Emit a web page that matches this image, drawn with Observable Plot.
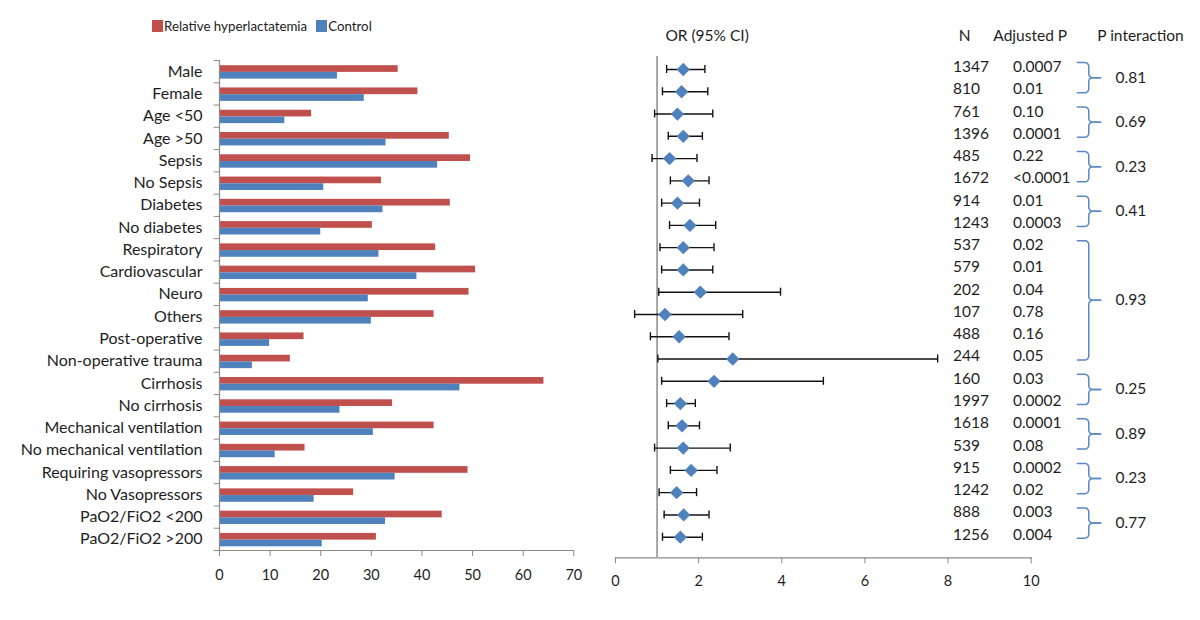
<!DOCTYPE html>
<html>
<head>
<meta charset="utf-8">
<script src="https://cdn.jsdelivr.net/npm/d3@7"></script>
<script src="https://cdn.jsdelivr.net/npm/@observablehq/plot@0.6"></script>
<style>
  html, body { margin: 0; padding: 0; background: #fff; }
  #wrap { position: relative; width: 1200px; height: 620px; font-family: Lato, "Open Sans", sans-serif; }
  #left, #right { position: absolute; top: 0; }
  #left { left: 0; }
  #right { left: 600px; }
  #legend { position: absolute; left: 152px; top: 18px; font-size: 13.3px; color: #222; display: flex; align-items: center; }
  #legend .sw { display: inline-block; width: 11px; height: 12px; margin-right: 1px; }
  #legend .item { display: flex; align-items: center; margin-right: 9px; }
</style>
</head>
<body>
<div id="wrap">
  <div id="left"></div>
  <div id="right"></div>
  <div id="legend"></div>
</div>
<script>
const categories = ["Male","Female","Age <50","Age >50","Sepsis","No Sepsis","Diabetes","No diabetes","Respiratory","Cardiovascular","Neuro","Others","Post-operative","Non-operative trauma","Cirrhosis","No cirrhosis","Mechanical ventilation","No mechanical ventilation","Requiring vasopressors","No Vasopressors","PaO2/FiO2 <200","PaO2/FiO2 >200"];
const hyperlactatemia = [35.3,39.2,18.2,45.4,49.6,32.0,45.6,30.2,42.7,50.6,49.3,42.4,16.7,14.0,64.1,34.2,42.4,16.9,49.1,26.5,44.0,31.0];
const control = [23.3,28.6,12.9,32.9,43.1,20.6,32.3,20.0,31.5,39.0,29.4,30.0,9.9,6.5,47.5,23.8,30.4,11.0,34.7,18.7,32.8,20.3];
const orEstimate = [1.63,1.59,1.49,1.63,1.30,1.75,1.49,1.79,1.63,1.63,2.04,1.19,1.53,2.82,2.37,1.56,1.60,1.63,1.82,1.47,1.64,1.56];
const ciLower = [1.23,1.13,0.94,1.27,0.88,1.32,1.11,1.30,1.07,1.11,1.04,0.46,0.84,1.02,1.11,1.23,1.27,0.94,1.32,1.05,1.17,1.13];
const ciUpper = [2.15,2.22,2.34,2.09,1.96,2.25,2.02,2.41,2.37,2.34,3.97,3.06,2.73,7.75,5.00,1.92,2.02,2.76,2.44,1.95,2.25,2.09];
const nPatients = ["1347","810","761","1396","485","1672","914","1243","537","579","202","107","488","244","160","1997","1618","539","915","1242","888","1256"];
const adjustedP = ["0.0007","0.01","0.10","0.0001","0.22","<0.0001","0.01","0.0003","0.02","0.01","0.04","0.78","0.16","0.05","0.03","0.0002","0.0001","0.08","0.0002","0.02","0.003","0.004"];
const interactionGroups = [[0,1],[2,3],[4,5],[6,7],[8,13],[14,15],[16,17],[18,19],[20,21]];
const pInteraction = ["0.81","0.69","0.23","0.41","0.93","0.25","0.89","0.23","0.77"];
const seriesNames = ["Relative hyperlactatemia","Control"];
const seriesColors = ["#C0504D","#4F81BD"];
const barTicks = [0,10,20,30,40,50,60,70];
const orTicks = [0,2,4,6,8,10];

const FONT = "Lato, 'Open Sans', sans-serif";
const AXIS = "#8a8a8a";
const TXT = "#1e1e1e";

// ---------- Left: grouped horizontal bars ----------
const rows = categories.map((c, i) => ({c, i, h: hyperlactatemia[i], k: control[i]}));
const left = Plot.plot({
  width: 600, height: 620,
  marginLeft: 219, marginRight: 26.7, marginTop: 60, marginBottom: 70,
  style: {fontFamily: FONT, background: "transparent"},
  x: {domain: [0, 70], axis: null},
  y: {domain: [0, 22], range: [60, 550], axis: null},
  marks: [
    Plot.rect(rows, {x1: 0, x2: "h", y1: d => d.i + 0.233, y2: d => d.i + 0.534, fill: seriesColors[0]}),
    Plot.rect(rows, {x1: 0, x2: "k", y1: d => d.i + 0.534, y2: d => d.i + 0.835, fill: seriesColors[1]}),
    Plot.ruleY(d3.range(0, 23), {x1: -1.05, x2: 0, stroke: AXIS, strokeWidth: 1}),
    Plot.ruleX(barTicks, {y1: 22, y2: 22 + 6/22.27, stroke: AXIS, strokeWidth: 1}),
    Plot.frame({anchor: "left", stroke: AXIS, strokeWidth: 1.2}),
    Plot.frame({anchor: "bottom", stroke: AXIS, strokeWidth: 1.2}),
    Plot.text(rows, {x: 0, y: d => d.i + 0.5, text: "c", textAnchor: "end", dx: -17, fontSize: 16, fill: TXT}),
    Plot.text(barTicks, {x: d => d, y: 22, text: d => String(d), dy: 25, fontSize: 14.5, fill: TXT})
  ]
});
document.getElementById("left").append(left);

// ---------- Right: forest plot + table ----------
const frows = categories.map((c, i) => ({i, est: orEstimate[i], lo: ciLower[i], hi: ciUpper[i], n: nPatients[i], p: adjustedP[i]}));
const PX = 41.57, PY = 22.27;
const bx0 = 11.11, bx1 = 11.385, bx2 = 11.67, rx = 4 / PX, ry = 4 / PY;
function arc(cx, cy, a0, a1, pts) {
  for (let s = 0; s <= 6; s++) {
    const a = a0 + (a1 - a0) * s / 6;
    pts.push([cx + rx * Math.cos(a), cy + ry * Math.sin(a)]);
  }
}
const braceData = [];
interactionGroups.forEach(([a, b], g) => {
  const top = a - 7 / PY, bot = b + 1 / PY, mid = (top + bot) / 2;
  const up = [[bx0, top]];
  arc(bx1 - rx, top + ry, -Math.PI / 2, 0, up);
  up.push([bx1, mid - ry]);
  arc(bx1 + rx, mid - ry, Math.PI, Math.PI / 2, up);
  up.push([bx2, mid]);
  const dn = [[bx2, mid]];
  arc(bx1 + rx, mid + ry, -Math.PI / 2, -Math.PI, dn);
  dn.push([bx1, bot - ry]);
  arc(bx1 - rx, bot - ry, 0, Math.PI / 2, dn);
  dn.push([bx0, bot]);
  up.forEach(p => braceData.push({x: p[0], y: p[1], z: g + "u"}));
  dn.forEach(p => braceData.push({x: p[0], y: p[1], z: g + "d"}));
});
const groupLabels = interactionGroups.map(([a, b], g) => ({y: ((a - 7 / PY) + (b + 1 / PY)) / 2, t: pInteraction[g]}));
const headers = [
  {x: 1.2, t: "OR (95% CI)"},
  {x: 8.26, t: "N"},
  {x: 9.09, t: "Adjusted P"},
  {x: 11.59, t: "P interaction"}
];

const right = Plot.plot({
  width: 600, height: 620,
  marginLeft: 15, marginRight: 169.3, marginTop: 56, marginBottom: 62.7,
  style: {fontFamily: FONT, background: "transparent", overflow: "visible"},
  x: {domain: [0, 10], axis: null},
  y: {domain: [0, 21], range: [69, 536.7], axis: null},
  marks: [
    Plot.ruleX([1], {stroke: AXIS, strokeWidth: 1.5}),
    Plot.frame({anchor: "bottom", stroke: AXIS, strokeWidth: 1.2}),
    Plot.ruleX(orTicks, {y1: 21.926, y2: 21.926 + 6 / PY, stroke: AXIS, strokeWidth: 1}),
    Plot.text(orTicks, {x: d => d, y: 21.926, text: d => String(d), dy: 24, fontSize: 14.5, fill: TXT}),
    Plot.ruleY(frows, {x1: "lo", x2: "hi", y: "i", stroke: "#111", strokeWidth: 1.4}),
    Plot.ruleX(frows, {x: "lo", y1: d => d.i - 4 / PY, y2: d => d.i + 4 / PY, stroke: "#111", strokeWidth: 1.4}),
    Plot.ruleX(frows, {x: "hi", y1: d => d.i - 4 / PY, y2: d => d.i + 4 / PY, stroke: "#111", strokeWidth: 1.4}),
    Plot.dot(frows, {x: "est", y: "i", symbol: "diamond2", r: 6, fill: "#4F81BD", stroke: "none"}),
    Plot.text(frows, {x: 8.12, y: "i", text: "n", textAnchor: "start", dy: -2.5, fontSize: 15.5, fill: TXT}),
    Plot.text(frows, {x: 9.56, y: "i", text: "p", textAnchor: "start", dy: -2.5, fontSize: 15.5, fill: TXT}),
    Plot.line(braceData, {x: "x", y: "y", z: "z", stroke: "#5b87c3", strokeWidth: 1.5}),
    Plot.text(groupLabels, {x: 12.03, y: "y", text: "t", textAnchor: "start", fontSize: 15.5, fill: TXT}),
    Plot.text(headers, {x: "x", y: (36 - 69) / PY, text: "t", textAnchor: "start", fontSize: 15.5, fill: TXT})
  ]
});
document.getElementById("right").append(right);

// ---------- Legend ----------
const lg = document.getElementById("legend");
seriesNames.forEach((name, i) => {
  const it = document.createElement("span");
  it.className = "item";
  const sw = document.createElement("span");
  sw.className = "sw";
  sw.style.background = seriesColors[i];
  it.append(sw, document.createTextNode(name));
  lg.append(it);
});
</script>
</body>
</html>
